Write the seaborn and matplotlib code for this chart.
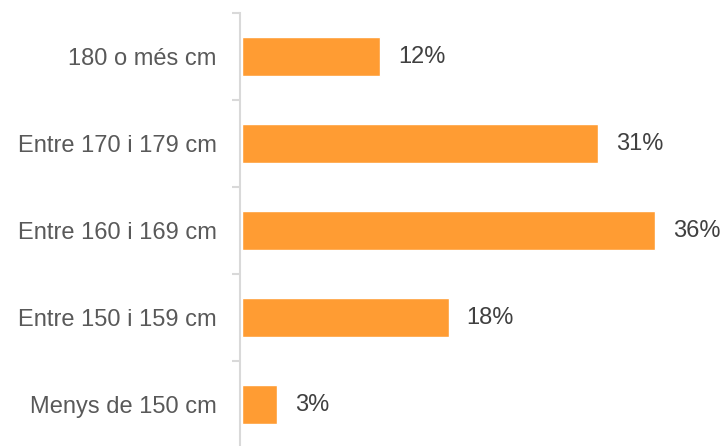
import matplotlib
matplotlib.use("Agg")
import matplotlib.pyplot as plt
import numpy as np
import pandas as pd
import seaborn as sns

categories = ["180 o més cm", "Entre 170 i 179 cm", "Entre 160 i 169 cm",
              "Entre 150 i 159 cm", "Menys de 150 cm"]
values = [12, 31, 36, 18, 3]
labels = ["12%", "31%", "36%", "18%", "3%"]

sns.set_theme(style="white")
plt.rcParams["font.family"] = ["Liberation Sans", "DejaVu Sans"]

df = pd.DataFrame({"cat": categories, "val": values})

fig = plt.figure(figsize=(7.23, 4.46), dpi=100)
ax = fig.add_axes([0.332, -0.0045, 0.668, 0.9753])
sns.barplot(data=df, x="val", y="cat", orient="h", color="#FF9C33",
            saturation=1, width=0.44, ax=ax)

for i, (v, lab) in enumerate(zip(values, labels)):
    ax.annotate(lab, (v, i), xytext=(13, 0), textcoords="offset points",
                va="center", ha="left", fontsize=17, color="#404040")

ax.set_xlim(-0.18, 41.9)
ax.set_ylim(4.5, -0.5)
ax.set_xlabel("")
ax.set_ylabel("")
ax.set_xticks([])

for s in ["top", "right", "bottom"]:
    ax.spines[s].set_visible(False)
ax.spines["left"].set_color("#D9D9D9")
ax.spines["left"].set_linewidth(1.5)

# category labels at bar centres, small gray ticks at the boundaries
ax.tick_params(axis="y", which="major", left=False, length=0, pad=17,
               labelsize=17, labelcolor="#595959")
ax.set_yticks(np.arange(-0.5, 5, 1), minor=True)
ax.tick_params(axis="y", which="minor", left=True, length=6, width=1.5,
               color="#D9D9D9")

fig.savefig("out.png", dpi=100)
plt.close()
